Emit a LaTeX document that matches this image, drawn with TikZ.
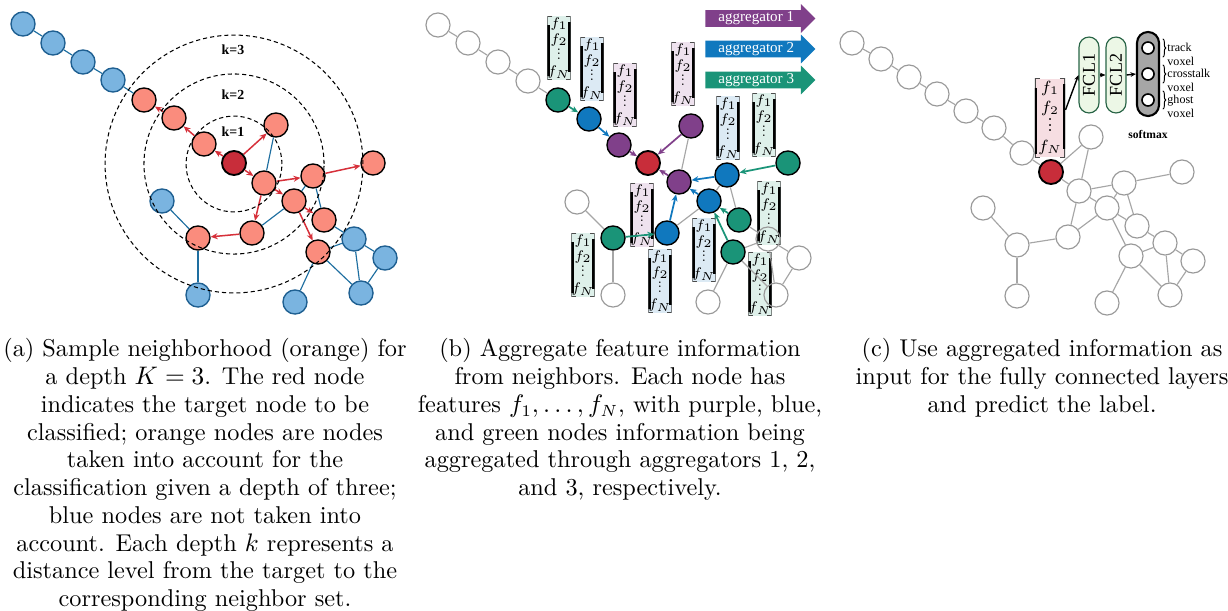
\documentclass[tikz,border=0pt]{standalone}
\usepackage{amsmath}
\usepackage{fontspec}
\usepackage{tikz}
\usetikzlibrary{calc, arrows.meta, positioning, shapes.arrows, decorations.pathreplacing}

\newfontfamily\labelfont{Liberation Serif}

\definecolor{nbrorange}{RGB}{250,140,125}
\definecolor{targetred}{RGB}{200,45,58}
\definecolor{arrowred}{RGB}{214,48,58}
\definecolor{farblue}{RGB}{122,180,224}
\definecolor{farbluedark}{RGB}{30,95,145}
\definecolor{edgeblue}{RGB}{30,110,160}
\definecolor{aggpurple}{RGB}{128,64,138}
\definecolor{aggblue}{RGB}{16,120,190}
\definecolor{agggreen}{RGB}{26,148,120}
\definecolor{vecmint}{RGB}{222,240,234}
\definecolor{vecblue}{RGB}{220,234,244}
\definecolor{vecpink}{RGB}{238,226,238}
\definecolor{vecred}{RGB}{246,222,226}
\definecolor{fcllight}{RGB}{236,247,230}
\definecolor{fcldark}{RGB}{40,100,70}

\newcommand{\vdotsm}{\vbox{\baselineskip=.33em\lineskiplimit=0pt\hbox{.}\hbox{.}\hbox{.}}}
\newcommand{\featcol}{$\begin{array}{@{}c@{}} f_1\\ f_2\\ \vdotsm\\ f_N \end{array}$}

\begin{document}
\begin{tikzpicture}[x=0.432pt, y=-0.432pt,
        nbr/.style={circle, draw=black, fill=nbrorange, line width=0.6pt, minimum size=10.4pt, inner sep=0pt},
        target/.style={circle, draw=black, fill=targetred, line width=0.8pt, minimum size=10.4pt, inner sep=0pt},
        far/.style={circle, draw=farbluedark, fill=farblue, line width=0.6pt, minimum size=10.4pt, inner sep=0pt},
        idle/.style={circle, draw=black!40, line width=0.5pt, minimum size=10.4pt, inner sep=0pt},
        hop/.style={circle, draw=black, fill=#1, line width=0.6pt, minimum size=10.4pt, inner sep=0pt},
        reach/.style={-{Stealth[length=3pt, width=2.6pt]}, draw=arrowred, line width=0.65pt},
        link/.style={draw=edgeblue, line width=0.5pt},
        plain/.style={draw=black!35, line width=0.5pt},
        agg/.style={-{Stealth[length=3pt, width=2.6pt]}, draw=#1, line width=0.75pt},
        ring/.style={dash pattern=on 1.8pt off 1.3pt, line width=0.45pt},
        ringlabel/.style={font=\labelfont\bfseries\fontsize{6}{7}\selectfont},
        aggbar/.style={single arrow, fill=#1, draw=none, text=white, font=\labelfont\fontsize{6.5}{7}\selectfont, minimum height=47.5pt, inner xsep=1pt, inner ysep=0.6pt, single arrow head extend=2.6pt, anchor=tail},
        fvec/.style={rectangle, fill=#1, inner sep=0pt, minimum width=9.9pt, minimum height=27.2pt, font=\fontsize{5.6}{6.9}\selectfont,
            path picture={
                \draw[line width=0.6pt, black!70] ([xshift=2.2pt]path picture bounding box.north west) -- (path picture bounding box.north west) -- (path picture bounding box.south west) -- ([xshift=2.2pt]path picture bounding box.south west);
                \draw[line width=0.6pt, black!70] ([xshift=-2.2pt]path picture bounding box.north east) -- (path picture bounding box.north east) -- (path picture bounding box.south east) -- ([xshift=-2.2pt]path picture bounding box.south east);
                \draw[line width=2pt] ([yshift=-4pt]path picture bounding box.north west) -- ([yshift=1.5pt]path picture bounding box.south west);
                \draw[line width=2pt] ([yshift=-2.5pt]path picture bounding box.north east) -- ([yshift=3.5pt]path picture bounding box.south east);
            }},
        fcl/.style={rectangle, rounded corners=4.3pt, draw=fcldark, fill=fcllight, line width=0.5pt, minimum width=8.6pt, minimum height=32.8pt, inner sep=0pt, font=\labelfont\fontsize{7.8}{8}\selectfont},
        fcarrow/.style={-{Stealth[length=2.4pt, width=2pt]}, line width=0.6pt},
        outlabel/.style={align=left, font=\labelfont\fontsize{5.2}{6.1}\selectfont, inner sep=0pt, anchor=north west},
        caption/.style={align=center, font=\fontsize{10.5}{12}\selectfont, anchor=north, inner sep=0pt}
    ]
        \useasboundingbox (0,0) rectangle (1228,610);

        % (a) Sample neighborhood
        \node[far] (ba1) at (23,24) {};
        \node[far] (ba2) at (53,43) {};
        \node[far] (ba3) at (83,62) {};
        \node[far] (ba4) at (113,80) {};
        \node[nbr] (na1) at (144,100) {};
        \node[nbr] (na2) at (174,118) {};
        \node[nbr] (na3) at (204,144) {};
        \node[target] (ta) at (234,163) {};
        \node[nbr] (na4) at (276,125) {};
        \node[nbr] (na5) at (264,183) {};
        \node[nbr] (na6) at (313,176) {};
        \node[nbr] (na7) at (373,163) {};
        \node[nbr] (na8) at (294,201) {};
        \node[nbr] (na9) at (324,220) {};
        \node[nbr] (na10) at (252,233) {};
        \node[nbr] (na11) at (198,238) {};
        \node[nbr] (na12) at (318,252) {};
        \node[far] (ba5) at (162,201) {};
        \node[far] (ba6) at (198,295) {};
        \node[far] (ba7) at (295,302) {};
        \node[far] (ba8) at (354,239) {};
        \node[far] (ba9) at (385,258) {};
        \node[far] (ba10) at (361,293) {};

        \draw[link] (ba1) -- (ba2);
        \draw[link] (ba2) -- (ba3);
        \draw[link] (ba3) -- (ba4);
        \draw[link] (ba4) -- (na1);
        \draw[link] (na4) -- (na5);
        \draw[link] (ba5) -- (na11);
        \draw[link] (na11) -- (ba6);
        \draw[link] (na10) -- (na8);
        \draw[link] (na6) -- (na8);
        \draw[link] (na6) -- (na9);
        \draw[link] (na9) -- (ba8);
        \draw[link] (na12) -- (ba8);
        \draw[link] (na12) -- (ba7);
        \draw[link] (na12) -- (ba10);
        \draw[link] (ba8) -- (ba10);
        \draw[link] (ba9) -- (ba10);
        \draw[link] (ba8) -- (ba9);

        \draw[reach] (ta) -- (na3);
        \draw[reach] (na3) -- (na2);
        \draw[reach] (na2) -- (na1);
        \draw[reach] (ta) -- (na4);
        \draw[reach] (ta) -- (na5);
        \draw[reach] (na5) -- (na6);
        \draw[reach] (na6) -- (na7);
        \draw[reach] (na5) -- (na8);
        \draw[reach] (na5) -- (na10);
        \draw[reach] (na10) -- (na11);
        \draw[reach] (na8) -- (na9);
        \draw[reach] (na8) -- (na12);

        \draw[ring] (234,164) circle[radius=20.7pt];
        \draw[ring] (234,164) circle[radius=38.9pt];
        \draw[ring] (234,164) circle[radius=55.7pt];
        \node[ringlabel] (k3) at (233,50) {k=3};
        \node[ringlabel] (k2) at (233,95) {k=2};
        \node[ringlabel] (k1) at (233,132) {k=1};

        % (b) Aggregation
        \node[fvec=vecmint] (vb1) at (559,48) {\featcol};
        \node[fvec=vecblue] (vb2) at (592,69) {\featcol};
        \node[fvec=vecpink] (vb3) at (625,95) {\featcol};
        \node[fvec=vecpink] (vb4) at (683,74) {\featcol};
        \node[fvec=vecblue] (vb5) at (728,128) {\featcol};
        \node[fvec=vecmint] (vb6) at (764,125) {\featcol};
        \node[fvec=vecpink] (vb7) at (642,215) {\featcol};
        \node[fvec=vecmint] (vb8) at (583,265) {\featcol};
        \node[fvec=vecblue] (vb9) at (660,281) {\featcol};
        \node[fvec=vecblue] (vb10) at (704,250) {\featcol};
        \node[fvec=vecmint] (vb11) at (769,213) {\featcol};
        \node[fvec=vecmint] (vb12) at (760,284) {\featcol};

        \node[idle] (wb1) at (438,25) {};
        \node[idle] (wb2) at (468,43) {};
        \node[idle] (wb3) at (498,62) {};
        \node[idle] (wb4) at (528,81) {};
        \node[hop=agggreen] (gb1) at (558,100) {};
        \node[hop=aggblue] (bb1) at (589,119) {};
        \node[hop=aggpurple] (pb1) at (619,145) {};
        \node[target] (tb) at (648,163) {};
        \node[hop=aggpurple] (pb2) at (691,126) {};
        \node[hop=aggpurple] (pb3) at (679,182) {};
        \node[hop=aggblue] (bb2) at (727,175) {};
        \node[hop=agggreen] (gb2) at (788,163) {};
        \node[hop=aggblue] (bb3) at (709,201) {};
        \node[hop=agggreen] (gb3) at (739,220) {};
        \node[hop=aggblue] (bb4) at (667,233) {};
        \node[hop=agggreen] (gb4) at (613,238) {};
        \node[hop=agggreen] (gb5) at (733,252) {};
        \node[idle] (wb5) at (577,202) {};
        \node[idle] (wb6) at (613,295) {};
        \node[idle] (wb7) at (708,302) {};
        \node[idle] (wb8) at (768,239) {};
        \node[idle] (wb9) at (799,258) {};
        \node[idle] (wb10) at (776,295) {};

        \draw[plain] (wb1) -- (wb2);
        \draw[plain] (wb2) -- (wb3);
        \draw[plain] (wb3) -- (wb4);
        \draw[plain] (wb4) -- (gb1);
        \draw[plain] (pb2) -- (pb3);
        \draw[plain] (bb4) -- (bb3);
        \draw[plain] (bb2) -- (bb3);
        \draw[plain] (bb2) -- (gb3);
        \draw[plain] (gb3) -- (wb8);
        \draw[plain] (gb5) -- (wb8);
        \draw[plain] (gb5) -- (wb7);
        \draw[plain] (gb5) -- (wb10);
        \draw[plain] (wb8) -- (wb10);
        \draw[plain] (wb9) -- (wb10);
        \draw[plain] (wb8) -- (wb9);
        \draw[plain] (gb4) -- (wb5);
        \draw[plain] (gb4) -- (wb6);

        \draw[agg=agggreen] (gb1) -- (bb1);
        \draw[agg=aggblue] (bb1) -- (pb1);
        \draw[agg=aggpurple] (pb1) -- (tb);
        \draw[agg=aggpurple] (pb2) -- (tb);
        \draw[agg=aggpurple] (pb3) -- (tb);
        \draw[agg=aggblue] (bb2) -- (pb3);
        \draw[agg=aggblue] (bb3) -- (pb3);
        \draw[agg=aggblue] (bb4) -- (pb3);
        \draw[agg=agggreen] (gb2) -- (bb2);
        \draw[agg=agggreen] (gb4) -- (bb4);
        \draw[agg=agggreen] (gb3) -- (bb3);
        \draw[agg=agggreen] (gb5) -- (bb3);

        \node[aggbar=aggpurple] (agg1) at (705,18.5) {aggregator 1};
        \node[aggbar=aggblue] (agg2) at (705,49) {aggregator 2};
        \node[aggbar=agggreen] (agg3) at (705,80) {aggregator 3};

        % (c) Classification
        \node[idle] (wc1) at (852,43) {};
        \node[idle] (wc2) at (881,59) {};
        \node[idle] (wc3) at (909,77) {};
        \node[idle] (wc4) at (937,94) {};
        \node[idle] (wc5) at (966,111) {};
        \node[idle] (wc6) at (994,128) {};
        \node[idle] (wc7) at (1022,153) {};
        \node[target] (tc) at (1051,172) {};
        \node[idle] (wc8) at (1091,137) {};
        \node[idle] (wc9) at (1079,191) {};
        \node[idle] (wc10) at (1124,183) {};
        \node[idle] (wc11) at (1182,172) {};
        \node[idle] (wc12) at (1107,208) {};
        \node[idle] (wc13) at (1137,226) {};
        \node[idle] (wc14) at (1068,237) {};
        \node[idle] (wc15) at (1017,245) {};
        \node[idle] (wc16) at (1131,256) {};
        \node[idle] (wc17) at (983,208) {};
        \node[idle] (wc18) at (1017,296) {};
        \node[idle] (wc19) at (1107,303) {};
        \node[idle] (wc20) at (1165,243) {};
        \node[idle] (wc21) at (1193,261) {};
        \node[idle] (wc22) at (1170,295) {};

        \draw[plain] (wc1) -- (wc2);
        \draw[plain] (wc2) -- (wc3);
        \draw[plain] (wc3) -- (wc4);
        \draw[plain] (wc4) -- (wc5);
        \draw[plain] (wc5) -- (wc6);
        \draw[plain] (wc6) -- (wc7);
        \draw[plain] (wc7) -- (tc);
        \draw[plain] (tc) -- (wc8);
        \draw[plain] (tc) -- (wc9);
        \draw[plain] (wc8) -- (wc9);
        \draw[plain] (wc9) -- (wc10);
        \draw[plain] (wc10) -- (wc11);
        \draw[plain] (wc9) -- (wc12);
        \draw[plain] (wc9) -- (wc14);
        \draw[plain] (wc14) -- (wc15);
        \draw[plain] (wc15) -- (wc17);
        \draw[plain] (wc15) -- (wc18);
        \draw[plain] (wc14) -- (wc12);
        \draw[plain] (wc10) -- (wc12);
        \draw[plain] (wc10) -- (wc13);
        \draw[plain] (wc12) -- (wc13);
        \draw[plain] (wc12) -- (wc16);
        \draw[plain] (wc13) -- (wc20);
        \draw[plain] (wc16) -- (wc20);
        \draw[plain] (wc16) -- (wc19);
        \draw[plain] (wc16) -- (wc22);
        \draw[plain] (wc20) -- (wc22);
        \draw[plain] (wc21) -- (wc22);
        \draw[plain] (wc20) -- (wc21);

        \node[fvec=vecred, minimum width=13pt, minimum height=33.3pt, font=\fontsize{7.4}{8.5}\selectfont] (vc) at (1050,118) {\featcol};
        \node[fcl] (fcl1) at (1089,75) {\rotatebox{90}{FCL1}};
        \node[fcl] (fcl2) at (1116,75) {\rotatebox{90}{FCL2}};
        \node[rectangle, rounded corners=4.7pt, draw=black, fill=black!35, line width=0.9pt, minimum width=9.5pt, minimum height=36.3pt] (smax) at (1148,74) {};
        \node[circle, draw=black, fill=white, line width=0.7pt, minimum size=5.2pt, inner sep=0pt] (out1) at (1148,48) {};
        \node[circle, draw=black, fill=white, line width=0.7pt, minimum size=5.2pt, inner sep=0pt] (out2) at (1148,74) {};
        \node[circle, draw=black, fill=white, line width=0.7pt, minimum size=5.2pt, inner sep=0pt] (out3) at (1148,100) {};
        \node[font=\labelfont\bfseries\fontsize{5}{5}\selectfont, below=2.3pt of smax] (smax_label) {softmax};

        \draw[fcarrow] ([yshift=3.5pt]vc.east) -- (fcl1.west);
        \draw[fcarrow] (fcl1.east) -- (fcl2.west);
        \draw[fcarrow] (fcl2.east) -- (smax.west);

        \draw[decorate, decoration={brace, amplitude=1.3pt}, line width=0.4pt] ([xshift=6.4pt, yshift=1pt]out1.north) -- ([xshift=6.4pt, yshift=-1pt]out1.south);
        \draw[decorate, decoration={brace, amplitude=1.3pt}, line width=0.4pt] ([xshift=6.4pt, yshift=1pt]out2.north) -- ([xshift=6.4pt, yshift=-1pt]out2.south);
        \draw[decorate, decoration={brace, amplitude=1.3pt}, line width=0.4pt] ([xshift=6.4pt, yshift=1pt]out3.north) -- ([xshift=6.4pt, yshift=-1pt]out3.south);
        \node[outlabel] (lab1) at ([xshift=8.2pt, yshift=2.5pt]out1.center) {track\\voxel};
        \node[outlabel] (lab2) at ([xshift=8.2pt, yshift=2.5pt]out2.center) {crosstalk\\voxel};
        \node[outlabel] (lab3) at ([xshift=8.2pt, yshift=2.5pt]out3.center) {ghost\\voxel};

        % Captions
        \node[caption] (cap_a) at (205,338) {(a) Sample neighborhood (orange) for\\ a depth $K=3$. The red node\\ indicates the target node to be\\ classified; orange nodes are nodes\\ taken into account for the\\ classification given a depth of three;\\ blue nodes are not taken into\\ account. Each depth $k$ represents a\\ distance level from the target to the\\ corresponding neighbor set.};
        \node[caption] (cap_b) at (620,338) {(b) Aggregate feature information\\ from neighbors. Each node has\\ features $f_1, \ldots, f_N$, with purple, blue,\\ and green nodes information being\\ aggregated through aggregators 1, 2,\\ and 3, respectively.};
        \node[caption] (cap_c) at (1042,338) {(c) Use aggregated information as\\ input for the fully connected layers\\ and predict the label.};
    \end{tikzpicture}
\end{document}
